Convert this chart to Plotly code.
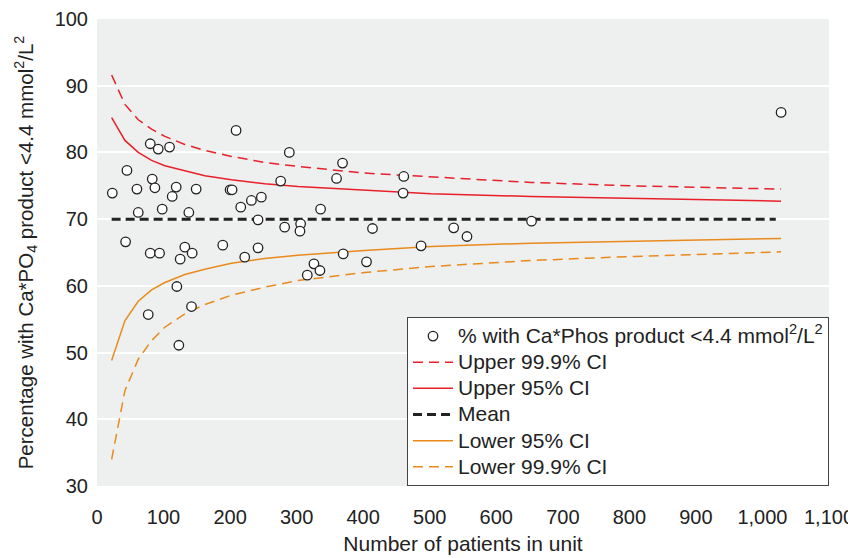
import plotly.graph_objects as go

# Scatter data: units (number of patients, % with Ca*Phos product < 4.4)
units_n = [23, 45, 43, 60, 62, 80, 83, 87, 92, 80, 94, 98, 109, 113, 119, 120, 125, 123, 77,
           132, 138, 143, 142, 149, 189, 200, 203, 209, 216, 222, 232, 242, 242, 247, 276,
           282, 289, 306, 305, 316, 326, 335, 336, 370, 369, 360, 405, 414, 461, 460, 487,
           536, 556, 653, 1028]
units_pct = [73.9, 77.3, 66.6, 74.5, 71.0, 81.3, 76.0, 74.7, 80.5, 64.9, 64.9, 71.5, 80.8, 73.4,
             74.8, 59.9, 64.0, 51.1, 55.7, 65.8, 71.0, 64.9, 56.9, 74.5, 66.1, 74.4, 74.4, 83.3,
             71.8, 64.3, 72.8, 69.9, 65.7, 73.3, 75.7, 68.8, 80.0, 69.3, 68.2, 61.6, 63.3, 62.3,
             71.5, 64.8, 78.4, 76.1, 63.6, 68.6, 76.4, 73.9, 66.0, 68.7, 67.4, 69.7, 86.0]

# Funnel limits
curve_n = [22, 42, 62, 82, 102, 132, 162, 202, 252, 302, 402, 502, 652, 802, 1028]
upper_999 = [91.6, 87.2, 84.9, 83.5, 82.4, 81.2, 80.3, 79.4, 78.5, 77.9, 76.9, 76.3, 75.5, 75.0, 74.5]
upper_95 = [85.2, 81.8, 80.0, 78.8, 78.0, 77.2, 76.5, 75.9, 75.3, 74.9, 74.3, 73.8, 73.4, 73.1, 72.7]
mean_n = [22, 1020]
mean_line = [70.0, 70.0]
lower_95 = [48.8, 54.8, 57.7, 59.4, 60.5, 61.7, 62.5, 63.4, 64.1, 64.6, 65.3, 65.9, 66.4, 66.7, 67.1]
lower_999 = [34.0, 44.3, 49.0, 51.8, 53.8, 55.8, 57.2, 58.6, 59.8, 60.8, 62.0, 62.9, 63.8, 64.4, 65.1]

x_ticks = [0, 100, 200, 300, 400, 500, 600, 700, 800, 900, 1000, 1100]
y_ticks = [30, 40, 50, 60, 70, 80, 90, 100]

RED = "#e8202a"
ORANGE = "#e98a1c"
FONT = "Liberation Sans, Arial, sans-serif"
TXT = "#222222"


def leg(label):
    # legend text drawn a little larger than the row pitch font
    return '<span style="font-size:21px">' + label + '</span>'


fig = go.Figure()

fig.add_trace(go.Scatter(x=curve_n, y=upper_999, mode="lines", name=leg("Upper 99.9% CI"),
                         line=dict(color=RED, width=1.5, dash="10px,6px"), legendrank=2))
fig.add_trace(go.Scatter(x=curve_n, y=upper_95, mode="lines", name=leg("Upper 95% CI"),
                         line=dict(color=RED, width=1.5), legendrank=3))
fig.add_trace(go.Scatter(x=mean_n, y=mean_line, mode="lines", name=leg("Mean"),
                         line=dict(color=TXT, width=3, dash="9px,5px"), legendrank=4))
fig.add_trace(go.Scatter(x=curve_n, y=lower_95, mode="lines", name=leg("Lower 95% CI"),
                         line=dict(color=ORANGE, width=1.5), legendrank=5))
fig.add_trace(go.Scatter(x=curve_n, y=lower_999, mode="lines", name=leg("Lower 99.9% CI"),
                         line=dict(color=ORANGE, width=1.5, dash="10px,6px"), legendrank=6))
fig.add_trace(go.Scatter(x=units_n, y=units_pct, mode="markers",
                         name=leg("% with Ca*Phos product &lt;4.4 mmol<sup>2</sup>/L<sup>2</sup>"),
                         marker=dict(symbol="circle", size=9.5, color="white",
                                     line=dict(color=TXT, width=1.3)),
                         legendrank=1))

# The page body adds an 8px offset, so the figure is sized/margined to compensate
fig.update_layout(
    width=848, height=550,
    margin=dict(l=89, r=27, t=11, b=72, autoexpand=False),
    paper_bgcolor="white",
    plot_bgcolor="#eef0ef",
    font=dict(family=FONT, size=20, color=TXT),
    showlegend=True,
    legend=dict(x=1, xanchor="right", y=0, yanchor="bottom",
                bgcolor="white", bordercolor="#444444", borderwidth=1,
                font=dict(family=FONT, size=17.8, color=TXT),
                itemwidth=40, tracegroupgap=0),
)

fig.update_xaxes(range=[0, 1100], tickvals=x_ticks, tickformat=",", automargin=False,
                 showgrid=False, zeroline=False, showline=False,
                 ticks="", ticklabelstandoff=17,
                 tickfont=dict(size=20, color=TXT),
                 title=dict(text="Number of patients in unit", standoff=9,
                            font=dict(size=21, color=TXT)))
fig.update_yaxes(range=[30, 100], tickvals=y_ticks, automargin=False,
                 showgrid=True, gridcolor="white", gridwidth=2,
                 zeroline=False, showline=False, ticks="", ticklabelstandoff=8,
                 tickfont=dict(size=20, color=TXT),
                 title=dict(text="Percentage with Ca*PO<sub>4</sub> product &lt;4.4 mmol<sup>2</sup>/L<sup>2</sup>",
                            standoff=15, font=dict(size=20.5, color=TXT)))

fig.write_html("out.html")
